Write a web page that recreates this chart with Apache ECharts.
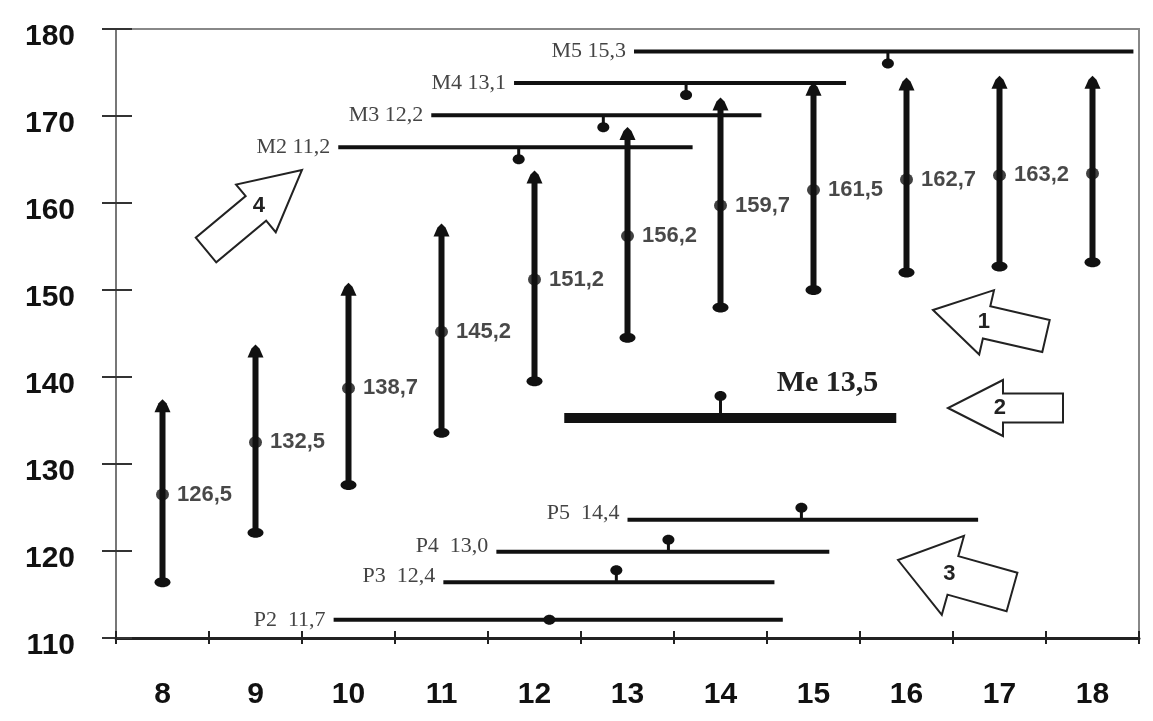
<!DOCTYPE html>
<html>
<head>
<meta charset="utf-8">
<script src="https://cdn.jsdelivr.net/npm/echarts@6/dist/echarts.min.js"></script>
<style>
html,body{margin:0;padding:0;background:#fff}
#main{width:1153px;height:721px}
</style>
</head>
<body>
<div id="main"></div>
<script>
// age groups and height ranges
var ages = [8, 9, 10, 11, 12, 13, 14, 15, 16, 17, 18];
var lows = [116.4, 122.1, 127.6, 133.6, 139.5, 144.5, 148.0, 150.0, 152.0, 152.7, 153.2];
var highs = [137.2, 143.5, 150.6, 157.4, 163.5, 168.5, 171.9, 173.6, 174.2, 174.4, 174.4];
var means = [126.5, 132.5, 138.7, 145.2, 151.2, 156.2, 159.7, 161.5, 162.7, 163.2, 163.4];
var meanLabels = ['126,5', '132,5', '138,7', '145,2', '151,2', '156,2', '159,7', '161,5', '162,7', '163,2', ''];

var yTicks = [110, 120, 130, 140, 150, 160, 170, 180];

// M lines
var mNames = ['M2 11,2', 'M3 12,2', 'M4 13,1', 'M5 15,3'];
var mY = [166.4, 170.1, 173.8, 177.4];
var mStart = [9.89, 10.89, 11.78, 13.07];
var mEnd = [13.70, 14.44, 15.35, 18.44];
var mMark = [11.83, 12.74, 13.63, 15.80];

// Me line
var meNames = ['Me 13,5'];
var meY = [135.3];
var meStart = [12.32];
var meEnd = [15.89];
var meMark = [14.0];

// P lines
var pNames = ['P2  11,7', 'P3  12,4', 'P4  13,0', 'P5  14,4'];
var pY = [112.1, 116.4, 119.9, 123.6];
var pStart = [9.84, 11.02, 11.59, 13.0];
var pEnd = [14.67, 14.58, 15.17, 16.77];
var pMark = [12.16, 12.88, 13.44, 14.87];

var sans = "'Liberation Sans', Arial, sans-serif";
var serif = "'Liberation Serif', 'Times New Roman', serif";

function segSeries(names, ys, starts, ends, marks, opt) {
  return {
    type: 'custom',
    xAxisIndex: 1,
    yAxisIndex: 0,
    silent: true,
    encode: { x: [0, 1], y: 2 },
    data: ys.map(function (y, i) { return [starts[i], ends[i], y, marks[i]]; }),
    renderItem: function (params, api) {
      var a = api.coord([api.value(0), api.value(2)]);
      var b = api.coord([api.value(1), api.value(2)]);
      var m = api.coord([api.value(3), api.value(2)]);
      var d = opt.side * opt.gap;
      var kids = [{
        type: 'line',
        shape: { x1: a[0], y1: a[1], x2: b[0], y2: b[1] },
        style: { stroke: '#111', lineWidth: opt.width }
      }];
      if (opt.side !== 0) {
        kids.push({
          type: 'line',
          shape: { x1: m[0], y1: m[1], x2: m[0], y2: m[1] + d },
          style: { stroke: '#111', lineWidth: 3 }
        });
      }
      kids.push({
        type: 'ellipse',
        shape: { cx: m[0], cy: m[1] + d, rx: 6, ry: 5 },
        style: { fill: '#111' }
      });
      var lx, ly;
      if (opt.labelAbove) {
        lx = b[0] - 18; ly = a[1] - 35;
      } else {
        lx = a[0] - 8; ly = a[1] + (opt.labelDy || 0);
      }
      kids.push({
        type: 'text',
        style: {
          text: names[params.dataIndex],
          x: lx, y: ly,
          align: 'right', verticalAlign: 'middle',
          font: opt.font,
          fill: opt.color
        }
      });
      return { type: 'group', children: kids };
    }
  };
}

function blockArrow(tip, tail, headLen, headW, shaftW) {
  var dx = tail[0] - tip[0], dy = tail[1] - tip[1];
  var len = Math.sqrt(dx * dx + dy * dy);
  var ux = dx / len, uy = dy / len, nx = -uy, ny = ux;
  function p(t, s) { return [tip[0] + ux * t + nx * s, tip[1] + uy * t + ny * s]; }
  return [p(0, 0), p(headLen, headW / 2), p(headLen, shaftW / 2), p(len, shaftW / 2),
          p(len, -shaftW / 2), p(headLen, -shaftW / 2), p(headLen, -headW / 2)];
}

function arrowGraphic(num, tip, tail, headLen, headW, shaftW) {
  var tx = tip[0] + (tail[0] - tip[0]) * 0.45;
  var ty = tip[1] + (tail[1] - tip[1]) * 0.45;
  return [{
    type: 'polygon',
    z: 100,
    shape: { points: blockArrow(tip, tail, headLen, headW, shaftW) },
    style: { fill: '#fff', stroke: '#222', lineWidth: 2 }
  }, {
    type: 'text',
    z: 101,
    style: {
      text: num, x: tx, y: ty,
      align: 'center', verticalAlign: 'middle',
      textAlign: 'center', textVerticalAlign: 'middle',
      font: 'bold 22px ' + sans, fill: '#222'
    }
  }];
}

var chart = echarts.init(document.getElementById('main'));

var option = {
  animation: false,
  backgroundColor: '#fff',
  grid: {
    left: 116, right: 14, top: 29, bottom: 83,
    show: true, borderColor: '#888', borderWidth: 2, backgroundColor: '#fff'
  },
  xAxis: [{
    type: 'category',
    position: 'bottom',
    data: ages.map(String),
    boundaryGap: true,
    axisLine: { lineStyle: { color: '#222', width: 3 } },
    axisTick: { show: true, length: 6, lineStyle: { color: '#222', width: 2 } },
    axisLabel: { margin: 42, fontSize: 30, fontWeight: 'bold', fontFamily: sans, color: '#111' },
    splitLine: { show: false }
  }, {
    type: 'value',
    position: 'bottom',
    min: 7.5, max: 18.5, interval: 1,
    axisLine: { show: false },
    axisTick: { show: true, inside: true, length: 7, lineStyle: { color: '#222', width: 2 } },
    axisLabel: { show: false },
    splitLine: { show: false }
  }],
  yAxis: [{
    type: 'value',
    position: 'left',
    min: yTicks[0], max: yTicks[yTicks.length - 1], interval: 10,
    axisLine: { show: true, lineStyle: { color: '#777', width: 2 } },
    axisTick: { show: true, length: 14, lineStyle: { color: '#333', width: 2 } },
    axisLabel: {
      margin: 41, fontSize: 30, fontWeight: 'bold', fontFamily: sans, color: '#111',
      verticalAlign: 'top', lineHeight: 16
    },
    splitLine: { show: false }
  }, {
    type: 'value',
    position: 'left',
    min: yTicks[0], max: yTicks[yTicks.length - 1], interval: 10,
    axisLine: { show: false },
    axisTick: { show: true, inside: true, length: 16, lineStyle: { color: '#333', width: 2 } },
    axisLabel: { show: false },
    splitLine: { show: false }
  }],
  series: [
    segSeries(mNames, mY, mStart, mEnd, mMark,
      { side: 1, gap: 12, width: 4, font: '22px ' + serif, color: '#444' }),
    segSeries(meNames, meY, meStart, meEnd, meMark,
      { side: -1, gap: 22, width: 10, labelAbove: true, font: 'bold 30px ' + serif, color: '#222' }),
    segSeries(pNames.slice(1), pY.slice(1), pStart.slice(1), pEnd.slice(1), pMark.slice(1),
      { side: -1, gap: 12, width: 4, labelDy: -6, font: '22px ' + serif, color: '#444' }),
    segSeries(pNames.slice(0, 1), pY.slice(0, 1), pStart.slice(0, 1), pEnd.slice(0, 1), pMark.slice(0, 1),
      { side: 0, gap: 0, width: 4, font: '22px ' + serif, color: '#444' }),
    {
      // vertical ranges
      type: 'custom',
      xAxisIndex: 1,
      yAxisIndex: 0,
      silent: true,
      encode: { x: 0, y: [1, 2] },
      data: ages.map(function (a, i) { return [a, lows[i], highs[i]]; }),
      renderItem: function (params, api) {
        var lo = api.coord([api.value(0), api.value(1)]);
        var hi = api.coord([api.value(0), api.value(2)]);
        return {
          type: 'group',
          children: [{
            type: 'line',
            shape: { x1: lo[0], y1: lo[1], x2: hi[0], y2: hi[1] + 8 },
            style: { stroke: '#111', lineWidth: 6 }
          }, {
            type: 'polygon',
            shape: { points: [[hi[0] - 8, hi[1] + 11], [hi[0] - 4, hi[1] + 2], [hi[0], hi[1] - 2], [hi[0] + 4, hi[1] + 2], [hi[0] + 8, hi[1] + 11]] },
            style: { fill: '#111' }
          }, {
            type: 'ellipse',
            shape: { cx: lo[0], cy: lo[1], rx: 8, ry: 5 },
            style: { fill: '#111' }
          }]
        };
      }
    },
    {
      type: 'scatter',
      xAxisIndex: 1,
      yAxisIndex: 0,
      silent: true,
      symbol: 'circle',
      symbolSize: [13, 12],
      itemStyle: { color: '#111' },
      data: ages.map(function (a, i) { return [a, means[i]]; }),
      label: {
        show: true,
        position: 'right',
        distance: 8,
        formatter: function (p) { return meanLabels[p.dataIndex]; },
        fontSize: 22,
        fontWeight: 'bold',
        fontFamily: sans,
        color: '#1a1a1a'
      },
      z: 5
    }
  ],
  graphic: []
    .concat(arrowGraphic('1', [933, 310], [1046, 336], 55, 66, 33))
    .concat(arrowGraphic('2', [948, 408], [1063, 408], 55, 56, 29))
    .concat(arrowGraphic('3', [898, 560], [1012, 592], 57, 82, 40))
    .concat(arrowGraphic('4', [302, 170], [206, 250], 60, 62, 32))
};

chart.setOption(option);
</script>
</body>
</html>
